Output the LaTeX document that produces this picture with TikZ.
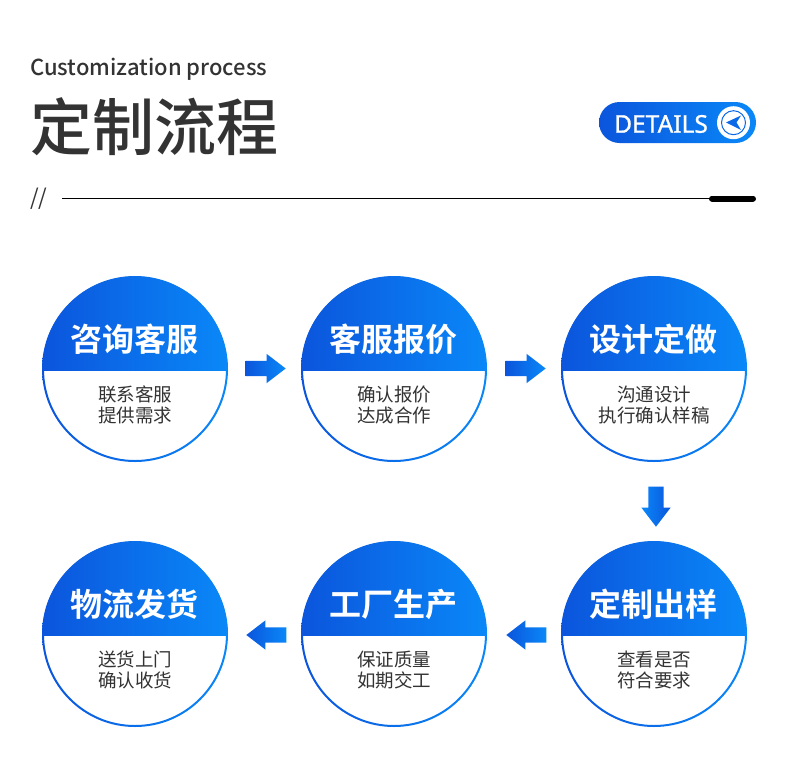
\documentclass[tikz,border=0pt]{standalone}
\usepackage{fontspec}
\setmainfont{Noto Sans CJK SC}
\newfontfamily\cjkbold{Noto Sans CJK SC Bold}
\newfontfamily\cjkmedium{Noto Sans CJK SC Medium}
\newfontfamily\detailfont[FakeBold=1]{Noto Sans}
\definecolor{bluedark}{RGB}{11,85,220}
\definecolor{bluelight}{RGB}{10,136,248}
\definecolor{textcol}{RGB}{51,51,51}
\usetikzlibrary{shapes.arrows, positioning, calc}

\tikzset{
  stepcircle/.style={circle, minimum size=185pt, inner sep=0pt},
  steptitle/.style={font=\fontsize{32}{32}\selectfont\cjkbold, text=white, inner sep=0pt},
  stepbody/.style={font=\fontsize{18.5}{20.5}\selectfont, text=textcol, align=center, inner sep=0pt},
  blockarrow/.style={single arrow, minimum width=29pt, minimum height=40pt,
    text height=15pt, text depth=0pt,
    single arrow head extend=7pt, single arrow tip angle=75, inner sep=0pt,
    left color=bluedark, right color=bluelight, anchor=tip},
}

\begin{document}
\begin{tikzpicture}[x=1pt, y=-1pt]

  \useasboundingbox (0,0) rectangle (790,782);
  \fill[white] (0,0) rectangle (790,782);

  % Heading
  \node[anchor=west, inner sep=0pt, text=textcol, font=\fontsize{22}{22}\selectfont\cjkmedium]
    (subtitle) at (30,69) {Customization process};
  \node[anchor=west, inner sep=0pt, text=textcol, font=\fontsize{62}{62}\selectfont\cjkmedium]
    (title) at (30,127) {定制流程};

  % Details badge
  \shade[left color=bluedark, right color=bluelight, rounded corners=20.5pt]
    (599,102) rectangle (756,143);
  \node[anchor=west, inner sep=0pt, text=white, font=\fontsize{24.5}{24.5}\selectfont\detailfont]
    (details) at (614,124) {DETAILS};
  \fill[white] (733.5,122.7) circle (16.5);
  \draw[bluedark!60!bluelight, line width=1pt] (733.5,122.7) circle (12);
  \fill[bluedark!60!bluelight] (726,122.5) -- (741,115.5) -- (736.5,122.5) -- (741,130) -- cycle;

  % Rule
  \node[anchor=west, inner sep=0pt, text=textcol, font=\fontsize{22}{22}\selectfont]
    (slashes) at (30,199) {//};
  \coordinate (ruleend) at (712,198.5);
  \draw[black, line width=1.3pt] (62,198.5) -- (ruleend);
  \draw[black, line width=6pt, line cap=round] (ruleend) -- (753,198.5);

  % Steps
  \foreach \n/\x/\y/\head/\lineone/\linetwo in
    {a/135/369/咨询客服/联系客服/提供需求,
     b/394/369/客服报价/确认报价/达成合作,
     c/654/369/设计定做/沟通设计/执行确认样稿,
     d/654/634/定制出样/查看是否/符合要求,
     e/394/634/工厂生产/保证质量/如期交工,
     f/135/634/物流发货/送货上门/确认收货} {
    \node[stepcircle] (\n) at (\x,\y) {};
    \begin{scope}
      \clip (\x,\y) circle (92.5);
      \shade[left color=bluedark, right color=bluelight]
        (\x-93,\y-93) rectangle (\x+93,\y+1);
    \end{scope}
    \shade[even odd rule, left color=bluedark, right color=bluelight]
      (\x,\y) circle (93) (\x,\y) circle (91);
    \node[steptitle] (\n head) at (\x-0.5,\y-30) {\head};
    \node[stepbody] (\n body) at (\x,\y+36) {\lineone\\\linetwo};
  }

  % Arrows
  \node[blockarrow] (ab) at (286,368.5) {};
  \node[blockarrow] (bc) at (546,368.5) {};
  \node[blockarrow, rotate=-90, left color=bluelight, right color=bluedark] (cd) at (656,527) {};
  \node[blockarrow, shape border rotate=180] (de) at (506,635) {};
  \node[blockarrow, shape border rotate=180] (ef) at (246,635) {};

\end{tikzpicture}
\end{document}
